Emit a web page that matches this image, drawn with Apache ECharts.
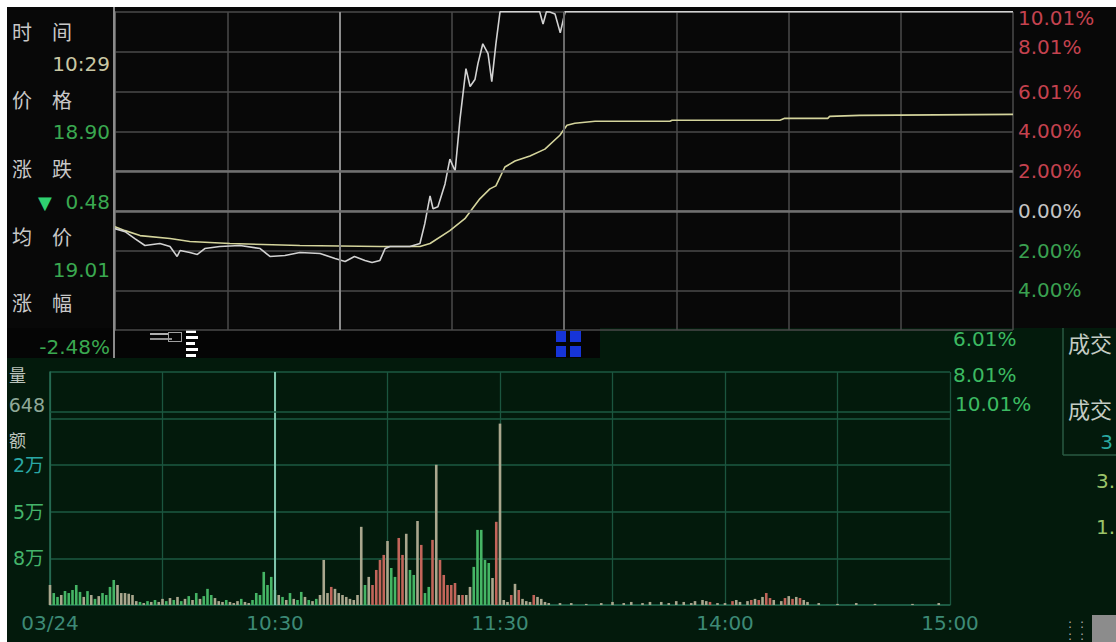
<!DOCTYPE html>
<html>
<head>
<meta charset="utf-8">
<script src="https://cdn.jsdelivr.net/npm/echarts@6/dist/echarts.min.js"></script>
<style>
html,body{margin:0;padding:0;background:#ffffff;}
#wrap{position:relative;width:1116px;height:642px;overflow:hidden;background:#ffffff;}
.bg{position:absolute;}
#c{position:absolute;left:0;top:0;width:1116px;height:642px;z-index:2;}
.ov{position:absolute;z-index:3;}
</style>
</head>
<body>
<div id="wrap">
  <div class="bg" style="left:7px;top:7px;width:1109px;height:321px;background:#080808;"></div>
  <div class="bg" style="left:7px;top:328px;width:593px;height:30px;background:#050505;"></div>
  <div class="bg" style="left:600px;top:328px;width:516px;height:30px;background:#031a0c;"></div>
  <div class="bg" style="left:7px;top:358px;width:1109px;height:284px;background:#031a0c;"></div>
  <div class="bg" style="left:556px;top:331px;width:10px;height:11px;background:#1634d8;"></div>
  <div class="bg" style="left:570px;top:331px;width:11px;height:11px;background:#1634d8;"></div>
  <div class="bg" style="left:556px;top:346px;width:10px;height:11px;background:#1634d8;"></div>
  <div class="bg" style="left:570px;top:346px;width:11px;height:11px;background:#1634d8;"></div>
  <div class="bg" style="left:150px;top:333px;width:18px;height:2px;background:#b0b0b0;"></div>
  <div class="bg" style="left:150px;top:338px;width:22px;height:2px;background:#909090;"></div>
  <div class="bg" style="left:168px;top:332px;width:14px;height:10px;border:1px solid #a0a0a0;box-sizing:border-box;"></div>
  <div class="bg" style="left:186px;top:330px;width:10px;height:3px;background:#ffffff;"></div>
  <div class="bg" style="left:186px;top:336px;width:12px;height:3px;background:#ffffff;"></div>
  <div class="bg" style="left:186px;top:342px;width:9px;height:3px;background:#ffffff;"></div>
  <div class="bg" style="left:186px;top:348px;width:12px;height:3px;background:#ffffff;"></div>
  <div class="bg" style="left:186px;top:354px;width:10px;height:3px;background:#ffffff;"></div>
  <div id="c"></div>
  <div class="ov" style="left:0;top:0;width:7px;height:642px;background:#ffffff;"></div>
  <div class="ov" style="left:0;top:0;width:1116px;height:7px;background:#ffffff;"></div>
  <div class="ov" style="left:1092px;top:615px;width:24px;height:27px;background:#8c8c8c;"></div>
</div>
<script>
// ---------- price panel (percent change vs. previous close) ----------
const priceMinutes = [0,2.7,5.3,8,12,14.7,16.6,17.4,20,22,24,28,33.4,38.8,41.4,45.4,49.4,54.8,58.8,61.5,64,66.8,68.7,70.8,72.2,73.5,78.8,81.5,82.8,84.2,85,86.3,88.2,89.5,90.9,92.2,93.8,94.9,96.2,97,98.3,99.7,100.7,101.8,102.9,113.5,114.4,115.3,116.2,117.6,119,120.3,240];
const pricePct = [-0.9,-1.05,-1.4,-1.75,-1.65,-1.8,-2.3,-2.0,-2.1,-2.2,-1.9,-1.8,-1.75,-1.9,-2.3,-2.25,-2.1,-2.15,-2.4,-2.55,-2.3,-2.5,-2.6,-2.5,-1.9,-1.8,-1.8,-1.65,-0.65,0.75,0.1,0.2,1.35,2.6,2.0,4.6,7.15,6.25,6.6,7.4,8.4,7.9,6.5,8.4,10.01,10.01,9.4,10.01,10.0,9.9,8.95,10.01,10.01];
const avgMinutes = [0,2.7,6.7,14.7,20,30.7,49.4,70.8,81.5,84.2,89.5,93.5,97.5,100.2,101.8,104.2,106.9,110.9,114.9,118.9,120.8,122.9,128.3,148.3,148.9,177.7,179,190.5,191,199,240];
const avgPct = [-0.8,-1.0,-1.25,-1.4,-1.55,-1.65,-1.75,-1.8,-1.8,-1.65,-1.0,-0.4,0.6,1.1,1.25,2.2,2.5,2.75,3.1,3.8,4.3,4.4,4.5,4.5,4.55,4.55,4.65,4.65,4.75,4.8,4.85];
const topTickValues = [-6,-4,-2,0,2,4,6,8,10];
const topTickLabels = ['','4.00%','2.00%','0.00%','2.00%','4.00%','6.01%','8.01%','10.01%'];
const topTickStyles = ['g','g','g','w','r','r','r','r8','rt'];

// ---------- volume panel (万) ----------
const volMorning = [0.72,0.43,0.29,0.36,0.50,0.43,0.54,0.72,0.47,0.29,
0.50,0.36,0.22,0.32,0.43,0.36,0.65,0.90,0.72,0.43,
0.43,0.40,0.36,0.14,0.11,0.07,0.14,0.11,0.18,0.11,
0.22,0.14,0.25,0.18,0.29,0.14,0.22,0.32,0.18,0.43,
0.22,0.32,0.58,0.36,0.25,0.14,0.11,0.18,0.11,0.07,
0.14,0.22,0.11,0.07,0.18,0.43,0.36,1.19,0.72,1.01,
0.54,0.36,0.29,0.18,0.43,0.22,0.18,0.47,0.29,0.18,
0.14,0.22,0.36,1.62,0.43,0.65,0.58,0.43,0.36,0.29,
0.22,0.18,0.36,2.81,0.72,1.01,0.72,1.26,1.62,1.80,
2.30,1.33,1.01,2.41,1.80,2.56,1.26,1.08,3.02,2.16,
0.43,0.65,2.34,5.04,1.62,1.08,0.72,0.72,0.79,0.36,
0.36,0.36,0.65,1.37,2.70,2.70,1.62,1.51,0.97,2.99,
6.52];
const volMorningDirs = "nggngggggngngnggggnnnnnngngngnngngngngngngggnnngnnngnngggggggngngnggngngnnnrnnnnnnnngnrrrrnggrrnggnrggrnrrrrrnrnngggggnrn";
const volAfternoonMinutes = [121,122,123,124,125,126,127,128,129,130,131,132,133,136,139,143,147,150,153,155,158,160,163,165,167,169,171,172,174,175,176,178,180,182,183,184,186,187,188,189,190,191,192,193,195,196,197,198,199,200,201,202,205,210,215,220,230,237];
const volAfternoon = [0.18,0.11,0.36,0.76,0.54,0.22,0.14,0.11,0.36,0.29,0.22,0.11,0.07,0.07,0.07,0.04,0.07,0.11,0.07,0.11,0.07,0.11,0.11,0.07,0.14,0.11,0.07,0.14,0.18,0.14,0.11,0.07,0.07,0.14,0.18,0.11,0.14,0.18,0.22,0.18,0.29,0.43,0.25,0.18,0.14,0.25,0.32,0.22,0.29,0.25,0.18,0.11,0.07,0.04,0.07,0.04,0.04,0.07];
const volAfternoonDirs = "nnrnrnnnrnnnnnnnnnnnnnnnnnnnnnrnnrnnnrnrnrrnnrnrnrnnnnnnnnn";
const volTickLabels = ['','8万','5万','2万','',''];
const volTickStyles = ['g','g','g','c','g','g'];
const bottomTimeMinutes = [0,60,120,180,240];
const bottomTimeLabels = ['03/24','10:30','11:30','14:00','15:00'];

const CN = '"Noto Sans CJK SC", sans-serif';
const NUM = '"DejaVu Sans", "Noto Sans CJK SC", sans-serif';
const dirColor = {g:'#45b565', r:'#c2655a', n:'#aaa78e'};

const priceData = priceMinutes.map((m,i)=>[m, pricePct[i]]);
const avgData = avgMinutes.map((m,i)=>[m, avgPct[i]]);
const volData = [];
volMorning.forEach((v,i)=>volData.push({value:[i, v], itemStyle:{color:dirColor[volMorningDirs[i]]}}));
volAfternoon.forEach((v,i)=>volData.push({value:[volAfternoonMinutes[i], v], itemStyle:{color:dirColor[volAfternoonDirs[i]] || dirColor.n}}));

function txt(text, x, y, color, size, font, align){
  return {type:'text', z:50, silent:true, style:{text:text, x:x, y:y, fill:color, font:size+'px '+font, textAlign:align||'left', textVerticalAlign:'middle', align:align||'left', verticalAlign:'middle'}};
}
function ln(x1,y1,x2,y2,color,w){
  return {type:'line', z:40, silent:true, shape:{x1:x1,y1:y1,x2:x2,y2:y2}, style:{stroke:color, lineWidth:w}};
}
const green = '#3aa850';
const gray = '#c8c8c8';
const graphics = [
  ln(114,7,114,358,'#8a8a8a',2),
  ln(50,412,950,412,'#1d5a42',1.5),
  ln(1063,328,1063,455,'#2a5a42',1.5),
  ln(1063,455,1116,455,'#2a5a42',1.5),
  txt('时　间',12,31,gray,20,CN,'left'),
  txt('10:29',110,64,'#c9c7a4',20,NUM,'right'),
  txt('价　格',12,99,gray,20,CN,'left'),
  txt('18.90',110,132,green,20,NUM,'right'),
  txt('涨　跌',12,168,gray,20,CN,'left'),
  txt('▼',45,202,'#2fd070',18,NUM,'center'),
  txt('0.48',110,202,green,20,NUM,'right'),
  txt('均　价',12,236,gray,20,CN,'left'),
  txt('19.01',110,270,green,20,NUM,'right'),
  txt('涨　幅',12,302,gray,20,CN,'left'),
  txt('-2.48%',110,347,green,20,NUM,'right'),
  txt('量',9,374,'#bcc4bc',17,CN,'left'),
  txt('648',45,405,'#8fa898',19,NUM,'right'),
  txt('额',9,439,'#bcc4bc',17,CN,'left'),
  txt('6.01%',953,339,'#3cba62',20,NUM,'left'),
  txt('8.01%',953,375,'#3cba62',20,NUM,'left'),
  txt('10.01%',955,404,'#3cba62',20,NUM,'left'),
  txt('成交',1068,342,'#c4ccc4',22,CN,'left'),
  txt('成交',1068,408,'#c4ccc4',22,CN,'left'),
  txt('3',1113,442,'#2aa8a0',20,NUM,'right'),
  txt('3.',1115,481,'#9cc46a',20,NUM,'right'),
  txt('1.',1115,527,'#9cc46a',20,NUM,'right'),
  txt(':',1070,624,'#b0b0b0',12,NUM,'center'),
  txt(':',1082,624,'#b0b0b0',12,NUM,'center'),
  txt(':',1070,636,'#b0b0b0',12,NUM,'center'),
  txt(':',1082,636,'#b0b0b0',12,NUM,'center')
];

const chart = echarts.init(document.getElementById('c'), null, {renderer:'svg', width:1116, height:642});
const option = {
  backgroundColor:'transparent',
  animation:false,
  grid:[
    {left:115, top:12, width:898, height:318},
    {left:50, top:372, width:900, height:233}
  ],
  xAxis:[
    {gridIndex:0, type:'value', min:0, max:240, interval:30,
     axisLine:{show:false}, axisTick:{show:false}, axisLabel:{show:false},
     splitLine:{show:true, lineStyle:{color:'#4a4a4a', width:1.5}}},
    {gridIndex:1, type:'value', min:0, max:240, interval:30,
     axisLine:{show:true, lineStyle:{color:'#1f6048', width:1.5}}, axisTick:{show:false},
     axisLabel:{margin:8, color:'#3d8a76', fontSize:20, fontFamily:NUM,
       formatter:function(v){const i=bottomTimeMinutes.indexOf(Math.round(v)); return i>=0?bottomTimeLabels[i]:'';}},
     splitLine:{show:true, lineStyle:{color:'#1b553f', width:1.3}}}
  ],
  yAxis:[
    {gridIndex:0, type:'value', position:'right', min:-6, max:10, interval:2,
     axisLine:{show:true, lineStyle:{color:'#6a6a6a', width:1.5}}, axisTick:{show:false},
     splitLine:{show:true, lineStyle:{color:'#4a4a4a', width:1.5}},
     axisLabel:{margin:5,
       formatter:function(v){const i=topTickValues.indexOf(Math.round(v)); if(i<0||!topTickLabels[i]) return ''; return '{'+topTickStyles[i]+'|'+topTickLabels[i]+'}';},
       rich:{
         r:{color:'#c4424f', fontSize:20, fontFamily:NUM},
         r8:{color:'#c4424f', fontSize:20, fontFamily:NUM, padding:[0,0,10,0]},
         rt:{color:'#c4424f', fontSize:20, fontFamily:NUM, padding:[12,0,0,0]},
         w:{color:'#c4c4c4', fontSize:20, fontFamily:NUM},
         g:{color:'#3aa050', fontSize:20, fontFamily:NUM}
       }}},
    {gridIndex:1, type:'value', position:'left', min:0, max:8.375, interval:1.675,
     axisLine:{show:true, lineStyle:{color:'#2a7058', width:1.5}}, axisTick:{show:false},
     splitLine:{show:true, lineStyle:{color:'#1d5a42', width:1.5}},
     axisLabel:{margin:6,
       formatter:function(v){const i=Math.round(v/1.675); if(!volTickLabels[i]) return ''; return '{'+volTickStyles[i]+'|'+volTickLabels[i]+'}';},
       rich:{
         g:{color:'#44b46a', fontSize:19, fontFamily:NUM},
         c:{color:'#2aa8a6', fontSize:19, fontFamily:NUM}
       }}}
  ],
  series:[
    {type:'line', xAxisIndex:0, yAxisIndex:0, data:avgData, showSymbol:false, clip:false,
     lineStyle:{color:'#d4d49c', width:1.6}, z:3, silent:true},
    {type:'line', xAxisIndex:0, yAxisIndex:0, data:priceData, showSymbol:false, clip:false,
     lineStyle:{color:'#d2d2d2', width:1.6}, z:4, silent:true,
     markLine:{symbol:'none', silent:true, label:{show:false},
       data:[
         {xAxis:60, lineStyle:{color:'#8c8c8c', width:2, type:'solid'}},
         {xAxis:120, lineStyle:{color:'#6a6a6a', width:2, type:'solid'}},
         {yAxis:0, lineStyle:{color:'#707070', width:2.5, type:'solid'}},
         {yAxis:2, lineStyle:{color:'#707070', width:2.5, type:'solid'}}
       ]}},
    {type:'bar', xAxisIndex:1, yAxisIndex:1, data:volData, barWidth:2.6, silent:true,
     markLine:{symbol:'none', silent:true, label:{show:false},
       data:[{xAxis:60, lineStyle:{color:'#7ec4ac', width:2, type:'solid'}}]}}
  ],
  graphic:graphics
};
chart.setOption(option);
</script>
</body>
</html>
